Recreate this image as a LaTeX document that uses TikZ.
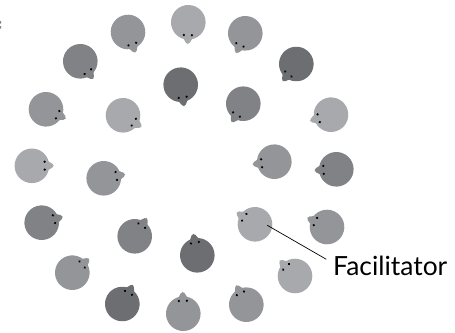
\documentclass[tikz,border=0pt]{standalone}
\usepackage{fontspec}
\setmainfont{Lato}
\definecolor{gA}{HTML}{A7A9AC}
\definecolor{gB}{HTML}{939598}
\definecolor{gC}{HTML}{808285}
\definecolor{gD}{HTML}{6D6E71}
\newcommand{\head}[5]{% cx cy tipx tipy colour
  \begin{scope}[shift={(#1,-#2)}]
    \pgfmathsetmacro{\ang}{atan2(-(#4-#2),#3-#1)}
    \begin{scope}[rotate=\ang]
      \fill[#5] (0,0) circle (17.3);
      \fill[#5,rounded corners=1.6] (13.5,6) -- (21.8,1.2) -- (21.8,-1.2) -- (13.5,-6) -- cycle;
      \fill[black] (12.8,4) circle (1.25) (12.8,-4) circle (1.25);
    \end{scope}
  \end{scope}}
\begin{document}
\begin{tikzpicture}[x=1pt,y=1pt]
\useasboundingbox (0,0) rectangle (455,-332);
\fill[gC] (0,-21) rectangle (1,-23.5) (0,-26) rectangle (1,-28.5);
\head{128}{32}{135}{51.7}{gB}
\head{188.3}{22.3}{187.7}{44}{gA}
\head{245.3}{33.3}{236}{53.3}{gB}
\head{296.3}{64}{283}{80.7}{gD}
\head{331}{114.7}{310.3}{120.7}{gA}
\head{336.3}{169.3}{314.7}{170.3}{gC}
\head{327}{227}{307.3}{217.7}{gB}
\head{295}{276}{279.7}{260.3}{gA}
\head{246.3}{304.7}{236.3}{285.3}{gB}
\head{183.3}{313.7}{182.7}{292.7}{gB}
\head{122.3}{304}{132.7}{285.3}{gD}
\head{72.3}{272.7}{88.7}{259}{gB}
\head{41.7}{222.7}{62.7}{216.7}{gC}
\head{31.9}{165.8}{55}{165.6}{gA}
\head{46}{109.3}{65.3}{118.3}{gB}
\head{80.3}{61.3}{92.7}{78.3}{gC}
\head{180.7}{84.7}{184}{106}{gD}
\head{243.3}{103.7}{232}{121.7}{gC}
\head{274.3}{161.7}{253}{164.3}{gB}
\head{255}{224.3}{237.3}{212.7}{gA}
\head{197.3}{255.3}{193.3}{234.3}{gD}
\head{134.7}{236.3}{146.7}{218.3}{gC}
\head{103.7}{178.3}{125.3}{174.3}{gB}
\head{123}{115.3}{141}{126.7}{gA}
\coordinate (a) at (267.3,-225.3);
\node[anchor=base west,inner sep=0pt,font=\fontsize{26.4}{26.4}\selectfont,text=black] (fac) at (333,-275.3) {Facilitator};
\coordinate (b) at (326.3,-259.3);
\draw[black,line width=0.7pt] (a) -- (b);
\end{tikzpicture}
\end{document}
